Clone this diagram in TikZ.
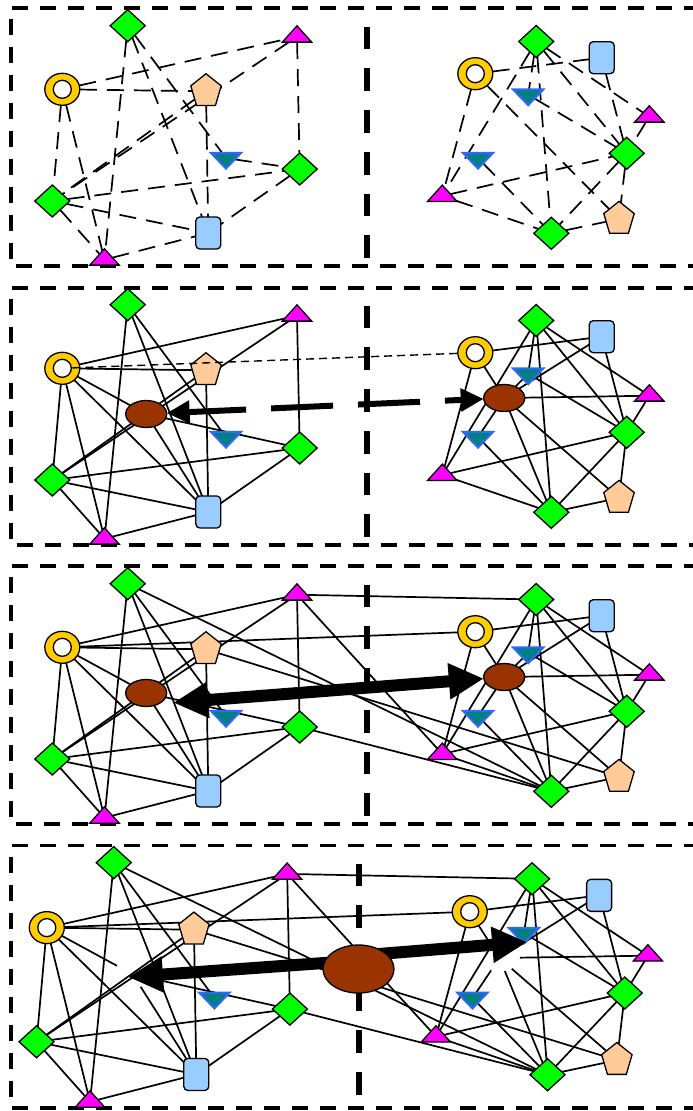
\documentclass[tikz,border=0pt]{standalone}
\usetikzlibrary{shapes.geometric,arrows.meta}
\pgfdeclarelayer{bg}
\pgfdeclarelayer{fg}
\pgfdeclarelayer{top}
\pgfsetlayers{bg,main,fg,top}

\definecolor{nodegreen}{RGB}{0,255,0}
\definecolor{nodemagenta}{RGB}{255,0,255}
\definecolor{ringgold}{RGB}{255,204,0}
\definecolor{peach}{RGB}{255,204,153}
\definecolor{skyblue}{RGB}{153,204,255}
\definecolor{tealfill}{RGB}{0,128,128}
\definecolor{tealedge}{RGB}{51,102,255}
\definecolor{hubbrown}{RGB}{153,51,0}

\tikzset{
  every node/.style={inner sep=0pt, outer sep=0pt},
  outl/.style={draw=black, line width=1.3pt},
  dia/.style={outl, diamond, fill=nodegreen, minimum width=35pt, minimum height=32pt},
  tri/.style={outl, regular polygon, regular polygon sides=3, fill=nodemagenta,
              minimum size=34pt, yscale=0.64},
  vtri/.style={draw=tealedge, line width=2pt, regular polygon, regular polygon sides=3,
               regular polygon rotate=180, fill=tealfill, minimum size=35pt, yscale=0.6},
  penta/.style={outl, regular polygon, regular polygon sides=5, fill=peach,
                minimum size=32pt, yscale=1.1},
  ring/.style={outl, ellipse, fill=ringgold, minimum width=35pt, minimum height=32pt,
               path picture={\draw[fill=white, line width=1.3pt]
                 (path picture bounding box.center) circle (9pt);}},
  box/.style={outl, rectangle, rounded corners=4pt, fill=skyblue,
              minimum width=25pt, minimum height=32pt},
  hub/.style={outl, ellipse, fill=hubbrown, minimum width=41pt, minimum height=27pt},
  ghost/.style={ellipse, minimum width=41pt, minimum height=27pt},
  bighub/.style={outl, ellipse, fill=hubbrown, minimum width=71pt, minimum height=48pt},
  link/.style={line width=1.7pt},
  dlink/.style={link, dash pattern=on 17pt off 10pt},
  thinlink/.style={line width=1.4pt, dash pattern=on 8pt off 5pt},
  frame/.style={line width=3.6pt, dash pattern=on 16pt off 12pt},
  divider/.style={line width=5.5pt, dash pattern=on 22.7pt off 19pt},
  dasharrow/.style={line width=6pt, dash pattern=on 62pt off 25pt, dash phase=4pt,
    arrows={Triangle[length=23pt,width=22pt]-Triangle[length=23pt,width=22pt]}},
  bigarrow/.style={line width=12pt,
    arrows={Triangle[length=35pt,width=34pt]-Triangle[length=35pt,width=34pt]}},
  onearrow/.style={line width=12pt, arrows={-Triangle[length=35pt,width=34pt]}},
}

% left graph
\newcommand\LeftNodes{%
  \node[ring]  (O)  at (62.3,89.3) {};
  \node[dia]   (A)  at (127.7,25.7) {};
  \node[tri]   (T1) at (297,36.7) {};
  \node[penta] (P)  at (206,91.3) {};
  \node[vtri]  (V)  at (226,158.1) {};
  \node[dia]   (D2) at (299.7,169) {};
  \node[dia]   (D3) at (52.3,201) {};
  \node[box]   (R)  at (208.3,233) {};
  \node[tri]   (T2) at (104.5,259.7) {};
}
% right graph
\newcommand\RightNodes{%
  \node[dia]   (rA)  at (536.2,41.5) {};
  \node[box]   (rR)  at (601.7,57.7) {};
  \node[ring]  (rO)  at (475.3,73.7) {};
  \node[vtri]  (rV1) at (528.2,94.7) {};
  \node[tri]   (rT1) at (649.3,116.7) {};
  \node[dia]   (rD2) at (626.7,153.3) {};
  \node[vtri]  (rV2) at (478,158.1) {};
  \node[tri]   (rT2) at (442.3,196) {};
  \node[penta] (rP)  at (619,219) {};
  \node[dia]   (rD3) at (551.3,233.3) {};
}
\newcommand\LeftBase{O/T1,O/P,O/D3,O/T2,A/T2,A/R,A/V,T1/D3,P/D3,P/R,T1/D2,D3/D2,D3/R,D3/T2,D2/R,T2/R}
\newcommand\LeftHub{O/E,O/R,E/R,E/D2}
\newcommand\RightBase{rA/rT2,rA/rV1,rA/rD3,rA/rT1,rA/rD2,rO/rR,rO/rT2,rR/rD2,rV1/rD2,rT1/rD2,rV2/rD3,rT2/rD2,rT2/rD3,rD2/rD3,rD2/rP,rD3/rP}
\newcommand\RightHub{rO/rE,rE/rP,rR/rE,rV1/rE,rE/rT1,rE/rV2,rE/rD3}
\newcommand\Cross{T1/rA,T1/rT2,O/rO,A/rD3,P/rP,D2/rD3}

\begin{document}
\begin{tikzpicture}[x=1pt,y=-1pt]
\useasboundingbox (0,0) rectangle (693,1111);
\begin{pgfonlayer}{bg}
  \fill[white] (0,0) rectangle (693,1111);
\end{pgfonlayer}

% panel frames
\draw[frame] (700,7.7) -- (11,7.7) -- (11,266) -- (700,266);
\draw[frame] (700,287.7) -- (11,287.7) -- (11,545) -- (700,545);
\draw[frame] (700,566) -- (11,566) -- (11,824) -- (700,824);
\draw[frame] (700,845.5) -- (11,845.5) -- (11,1108) -- (700,1108);

% panel 1: two separate graphs
\begin{scope}[name prefix=a-]
  \LeftNodes
  \RightNodes
  \begin{pgfonlayer}{bg}
    \foreach \a/\b in \LeftBase {\draw[dlink] (\a) -- (\b);}
    \draw[dlink] (V) -- (D2);
    \foreach \a/\b in \RightBase {\draw[dlink] (\a) -- (\b);}
    \draw[dlink] (rO) -- (rP);
  \end{pgfonlayer}
  \draw[divider] (367,26.7) -- (367,260);
\end{scope}

% panel 2: hubs linked by a dashed arrow
\begin{scope}[shift={(0,279)}, name prefix=b-]
  \LeftNodes
  \RightNodes
  \node[hub] (E)  at (146.2,135) {};
  \node[hub] (rE) at (504.2,119) {};
  \begin{pgfonlayer}{bg}
    \foreach \a/\b in \LeftBase {\draw[link] (\a) -- (\b);}
    \foreach \a/\b in \LeftHub {\draw[link] (\a) -- (\b);}
    \foreach \a/\b in \RightBase {\draw[link] (\a) -- (\b);}
    \foreach \a/\b in \RightHub {\draw[link] (\a) -- (\b);}
  \end{pgfonlayer}
  \draw[divider] (367,26.7) -- (367,260);
  \begin{pgfonlayer}{fg}
    \draw[thinlink, shorten <=10pt] (O.center) -- (rO);
    \draw[dasharrow] (E) -- (rE);
  \end{pgfonlayer}
\end{scope}

% panel 3: graphs joined, solid double arrow between hubs
\begin{scope}[shift={(0,558)}, name prefix=c-]
  \LeftNodes
  \RightNodes
  \node[hub] (E)  at (146.2,135) {};
  \node[hub] (rE) at (504.2,119) {};
  \coordinate (L3) at (173.3,144.7);
  \begin{pgfonlayer}{bg}
    \foreach \a/\b in \LeftBase {\draw[link] (\a) -- (\b);}
    \foreach \a/\b in \LeftHub {\draw[link] (\a) -- (\b);}
    \foreach \a/\b in \RightBase {\draw[link] (\a) -- (\b);}
    \foreach \a/\b in \RightHub {\draw[link] (\a) -- (\b);}
    \foreach \a/\b in \Cross {\draw[link] (\a) -- (\b);}
  \end{pgfonlayer}
  \draw[divider] (367,26.7) -- (367,260);
  \begin{pgfonlayer}{fg}
    \draw[bigarrow] (L3) -- (rE);
  \end{pgfonlayer}
\end{scope}

% panel 4: merged hub in the middle
\begin{scope}[shift={(-17,836.4)}, xscale=1.024, yscale=1.0216, name prefix=d-]
  \LeftNodes
  \RightNodes
  \node[ghost] (E)  at (146.2,135) {};
  \node[ghost] (rE) at (504.2,119) {};
  \coordinate (Lt) at (141.6,137.6);
  \coordinate (Rt) at (531.3,103.4);
  \begin{pgfonlayer}{bg}
    \foreach \a/\b in \LeftBase {\draw[link] (\a) -- (\b);}
    \foreach \a/\b in \LeftHub {\draw[link] (\a) -- (\b);}
    \foreach \a/\b in \RightBase {\draw[link] (\a) -- (\b);}
    \foreach \a/\b in \RightHub {\draw[link] (\a) -- (\b);}
    \foreach \a/\b in \Cross {\draw[link] (\a) -- (\b);}
  \end{pgfonlayer}
  \draw[divider] (367,26.7) -- (367,260);
  \begin{pgfonlayer}{top}
    \node[bighub] (BE) at (366.7,129.8) {};
  \end{pgfonlayer}
  \begin{pgfonlayer}{fg}
    \draw[onearrow, shorten <=-8pt] (BE.170) -- (Lt);
    \draw[onearrow, shorten <=-8pt] (BE.30) -- (Rt);
  \end{pgfonlayer}
\end{scope}
\end{tikzpicture}
\end{document}
